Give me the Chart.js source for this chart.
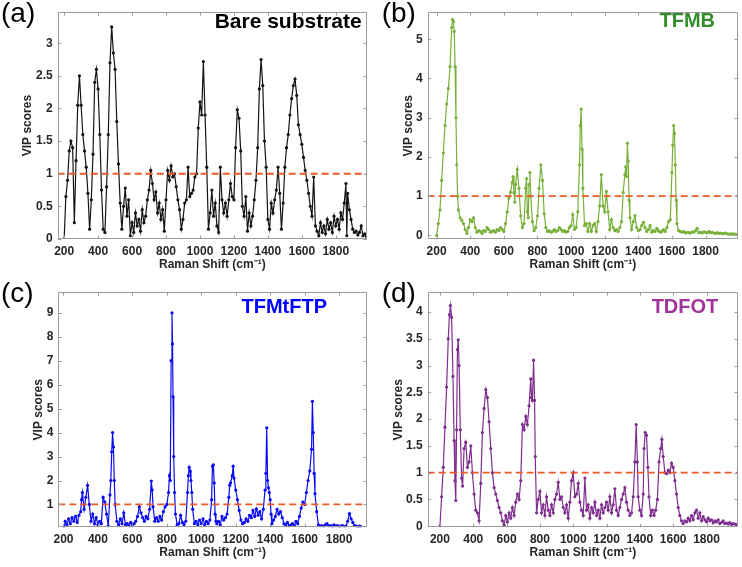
<!DOCTYPE html>
<html>
<head>
<meta charset="utf-8">
<script src="https://cdn.jsdelivr.net/npm/chart.js"></script>
<style>
  body { margin: 0; background: #fff; width: 742px; height: 567px; position: relative; overflow: hidden; }
  canvas { position: absolute; }
</style>
</head>
<body>
<canvas id="panelA" width="371" height="280" style="left:0;top:0"></canvas>
<canvas id="panelB" width="371" height="280" style="left:371px;top:0"></canvas>
<canvas id="panelC" width="371" height="287" style="left:0;top:280px"></canvas>
<canvas id="panelD" width="371" height="287" style="left:371px;top:280px"></canvas>
<script>
// ---- data ----
const ramanTicks = [200, 400, 600, 800, 1000, 1200, 1400, 1600, 1800];
const vipTicksA = [0, 0.5, 1, 1.5, 2, 2.5, 3];
const vipTicksB = [0, 1, 2, 3, 4, 5];
const vipTicksC = [1, 2, 3, 4, 5, 6, 7, 8, 9];
const vipTicksD = [0, 0.5, 1, 1.5, 2, 2.5, 3, 3.5, 4];
const threshold = 1;

// (a) Bare substrate
const shiftA = [
  200,210,220,230,240,250,260,270,280,290,
  300,310,320,330,340,350,360,370,380,390,
  400,410,420,430,440,450,460,470,480,490,
  500,510,520,530,540,550,560,570,580,590,
  600,610,620,630,640,650,660,670,680,690,
  700,710,720,730,740,750,760,770,780,790,
  800,810,820,830,840,850,860,870,880,890,
  900,910,920,930,940,950,960,970,980,990,
  1000,1010,1020,1030,1040,1050,1060,1070,1080,1090,
  1100,1110,1120,1130,1140,1150,1160,1170,1180,1190,
  1200,1210,1220,1230,1240,1250,1260,1270,1280,1290,
  1300,1310,1320,1330,1340,1350,1360,1370,1380,1390,
  1400,1410,1420,1430,1440,1450,1460,1470,1480,1490,
  1500,1510,1520,1530,1540,1550,1560,1570,1580,1590,
  1600,1610,1620,1630,1640,1650,1660,1670,1680,1690,
  1700,1710,1720,1730,1740,1750,1760,1770,1780,1790,
  1800,1810,1820,1830,1840,1850,1860,1865,1870,1880,
  1890,1900,1910,1920,1930,1940,1950,1960,1970,1980
];
const vipA = [
  0,0.65,0.9,1.35,1.5,1.4,0.25,1.2,2.05,2.5,
  2.05,1.6,1.35,1.1,0.7,0.15,0.6,1.3,2.4,2.6,
  2.3,1.6,0.75,0.15,0.1,0.8,1.6,2.7,3.25,2.85,
  2.6,1.8,1.15,0.55,0.15,0.5,0.78,0.35,0.6,0.05,
  0.25,0.1,0.4,0.2,0.3,0.12,0.45,0.25,0.35,0.6,
  0.75,1.05,0.85,0.6,0.72,0.4,0.55,0.3,0.45,0.12,
  0.6,1.05,0.9,1.12,0.95,1.0,0.8,0.6,0.45,0.15,
  0.3,0.55,0.6,1.1,0.65,0.7,0.75,0.95,1.0,1.7,
  2.1,1.9,2.72,1.9,1.1,0.15,0.4,0.75,0.35,0.55,
  0.2,0.1,1.1,0.6,0.4,0.55,0.35,0.6,0.85,0.65,
  0.6,1.4,1.98,1.85,1.35,0.5,0.35,0.65,0.12,0.4,
  0.2,0.35,0.6,0.9,1.4,2.3,2.75,2.35,1.5,1.1,
  0.3,0.15,0.55,0.4,0.6,0.75,1.1,0.7,0.15,0.55,
  1.1,1.4,1.6,1.9,2.15,2.35,2.45,2.2,1.75,1.6,
  1.45,1.25,1.05,0.9,0.7,0.5,0.35,0.95,0.2,0.12,
  0.05,0.25,0.1,0.2,0.08,0.3,0.15,0.25,0.1,0.35,
  0.2,0.3,0.15,0.4,0.3,0.55,0.85,0.05,0.7,0.45,
  0.3,0.15,0.1,0.12,0.06,0.1,0.2,0.05,0.08,0.04
];

// (b) TFMB
const shiftB = [
  200,210,220,230,240,250,260,270,280,290,
  295,300,305,310,315,320,325,330,340,350,
  360,370,380,390,400,410,420,430,440,450,
  460,470,480,490,500,510,520,530,540,550,
  560,570,580,590,600,610,620,630,640,650,
  655,660,665,670,680,690,700,710,720,730,
  735,740,745,750,755,760,770,780,790,800,
  810,820,830,840,850,860,870,880,890,900,
  910,920,930,940,950,960,970,980,990,1000,
  1010,1020,1030,1040,1050,1055,1060,1065,1070,1080,
  1090,1100,1110,1120,1130,1140,1150,1160,1170,1180,
  1190,1200,1210,1220,1230,1240,1250,1260,1270,1280,
  1290,1300,1310,1320,1325,1330,1335,1340,1345,1350,
  1360,1370,1380,1390,1400,1410,1420,1430,1440,1450,
  1460,1470,1480,1490,1500,1510,1520,1530,1540,1550,
  1560,1570,1580,1590,1600,1605,1610,1615,1620,1625,
  1630,1640,1650,1660,1670,1680,1690,1700,1710,1720,
  1730,1740,1750,1760,1770,1780,1790,1800,1810,1820,
  1830,1840,1850,1860,1870,1880,1890,1900,1910,1920,
  1930,1940,1950,1960,1970,1980,1990
];
const vipB = [
  0,0.3,0.65,1.4,2.1,2.8,3.35,3.75,4.3,5.3,
  5.5,5.45,5.2,4.3,3.0,1.8,1.0,0.65,0.45,0.38,
  0.3,0.15,0.05,0.2,0.4,0.35,0.45,0.2,0.08,0.12,
  0.1,0.05,0.12,0.1,0.2,0.15,0.08,0.1,0.12,0.08,
  0.15,0.12,0.2,0.15,0.1,0.3,0.6,0.95,1.1,1.35,
  1.5,1.1,0.85,1.3,1.68,1.2,0.5,0.2,0.3,1.2,
  1.45,0.6,0.45,1.3,1.6,1.0,0.35,0.12,0.2,0.5,
  1.2,1.8,1.4,0.55,0.2,0.1,0.12,0.08,0.1,0.15,
  0.1,0.12,0.2,0.15,0.1,0.12,0.08,0.1,0.2,0.25,
  0.53,0.15,0.2,0.6,1.8,2.8,3.22,2.2,1.2,0.25,
  0.3,0.1,0.3,0.1,0.25,0.3,0.1,0.35,0.75,1.55,
  0.75,0.6,1.12,0.6,0.15,0.4,0.2,0.12,0.15,0.1,
  0.2,0.35,1.1,1.55,1.75,1.5,2.35,1.9,0.9,0.45,
  0.15,0.35,0.5,0.2,0.12,0.15,0.25,0.33,0.2,0.1,
  0.15,0.25,0.08,0.12,0.1,0.18,0.12,0.08,0.1,0.15,
  0.1,0.2,0.35,0.4,1.6,2.3,2.8,2.6,1.8,0.9,
  0.3,0.12,0.1,0.08,0.1,0.06,0.08,0.07,0.06,0.09,
  0.08,0.12,0.18,0.07,0.08,0.06,0.09,0.08,0.06,0.1,
  0.07,0.08,0.06,0.05,0.07,0.05,0.06,0.04,0.05,0.06,
  0.04,0.03,0.04,0.03,0.04,0.02,0.02
];

// (c) TFMtFTP
const shiftC = [
  205,210,220,230,240,250,260,270,280,290,
  300,305,310,320,330,340,350,360,370,380,
  390,400,410,420,430,440,450,460,470,475,
  480,485,490,495,500,510,520,530,540,550,
  560,570,580,590,600,610,620,630,640,650,
  660,670,680,690,700,710,715,720,730,740,
  750,760,770,780,790,800,810,815,820,825,
  830,833,836,840,845,850,860,870,880,890,
  900,910,920,925,930,935,940,945,950,960,
  970,980,990,1000,1010,1020,1030,1040,1050,1060,
  1065,1070,1075,1080,1085,1090,1100,1110,1120,1130,
  1140,1150,1160,1165,1170,1180,1185,1190,1200,1210,
  1220,1230,1240,1250,1260,1270,1280,1290,1300,1310,
  1320,1330,1340,1350,1360,1370,1375,1380,1385,1390,
  1395,1400,1405,1410,1420,1430,1440,1450,1460,1470,
  1480,1490,1500,1510,1520,1530,1540,1550,1560,1570,
  1580,1590,1600,1610,1620,1630,1640,1645,1650,1655,
  1660,1670,1680,1690,1700,1710,1720,1730,1740,1750,
  1760,1770,1780,1790,1800,1810,1820,1830,1840,1850,
  1860,1870,1880,1890,1900,1910,1920,1925
];
const vipC = [
  0.07,0.3,0.15,0.4,0.2,0.45,0.3,0.5,0.25,0.55,
  0.7,1.2,1.5,0.8,1.3,1.8,1.0,0.3,0.6,0.2,
  0.45,0.15,0.3,0.2,1.3,1.1,0.6,0.1,1.4,2.0,
  3.2,4.0,3.4,2.0,1.0,0.3,0.15,0.4,0.2,0.65,
  0.15,0.2,0.1,0.25,0.15,0.2,0.3,0.5,0.9,0.65,
  0.45,0.3,0.5,0.4,0.8,1.98,1.6,0.9,0.3,0.45,
  0.3,0.5,0.35,0.7,0.9,1.0,1.5,2.2,2.0,7.0,
  9.0,7.7,5.5,3.0,1.5,0.6,0.15,0.2,0.55,0.25,
  0.15,0.3,1.5,2.2,2.55,2.4,2.0,1.5,0.8,0.2,
  0.3,0.15,0.35,0.2,0.4,0.15,0.3,0.2,0.35,1.2,
  2.6,2.65,1.9,0.6,0.3,0.2,0.3,0.15,0.5,0.35,
  0.45,0.6,1.3,1.8,1.9,2.2,2.6,2.1,1.6,1.2,
  0.75,0.35,0.2,0.25,0.4,0.3,0.55,0.45,0.75,0.5,
  0.82,0.55,0.7,0.4,0.8,1.6,2.3,4.2,2.0,1.7,
  1.5,1.2,0.6,0.2,0.35,0.5,0.8,0.6,0.7,0.45,
  0.2,0.15,0.25,0.1,0.15,0.2,0.12,0.3,0.2,0.5,
  0.85,1.1,1.0,1.5,2.0,2.4,3.3,5.3,4.0,2.3,
  1.45,0.7,0.15,0.1,0.12,0.08,0.15,0.2,0.1,0.12,
  0.08,0.15,0.1,0.12,0.08,0.1,0.12,0.08,0.1,0.3,
  0.62,0.4,0.25,0.12,0.1,0.08,0.1,0.08
];

// (d) TDFOT
const shiftD = [
  200,210,220,230,240,250,257,263,270,278,
  285,290,295,300,305,310,315,322,330,336,
  345,355,365,375,385,395,405,415,425,435,
  445,455,465,475,485,495,505,515,525,535,
  545,555,565,575,585,595,605,615,625,635,
  645,655,665,675,685,695,705,715,725,735,
  745,750,755,762,768,772,780,790,800,810,
  820,830,840,850,860,870,880,890,900,910,
  920,930,940,950,960,970,980,990,1000,1010,
  1020,1030,1040,1050,1060,1070,1080,1090,1100,1110,
  1120,1130,1140,1150,1160,1170,1180,1190,1200,1210,
  1220,1230,1240,1250,1260,1270,1280,1290,1300,1310,
  1320,1330,1340,1350,1360,1370,1378,1385,1390,1400,
  1410,1420,1425,1432,1440,1448,1455,1465,1475,1485,
  1495,1505,1515,1525,1532,1540,1550,1560,1570,1580,
  1590,1600,1610,1620,1630,1640,1650,1660,1670,1680,
  1690,1700,1710,1720,1730,1740,1750,1760,1770,1780,
  1790,1800,1810,1820,1830,1840,1850,1860,1870,1880,
  1890,1900,1910,1920,1930,1940,1950,1960,1970,1980,
  1988
];
const vipD = [
  0,0.55,1.1,1.85,2.6,3.5,3.95,4.12,3.9,2.8,
  1.6,0.85,0.48,1.8,3.3,3.48,3.0,1.8,0.9,0.75,
  1.45,1.57,1.1,1.2,1.5,1.0,0.6,0.3,0.25,0.1,
  0.8,1.75,2.2,2.55,2.4,1.95,1.45,1.0,0.72,0.6,
  0.48,0.35,0.25,0.1,0.02,0.2,0.08,0.25,0.15,0.35,
  0.2,0.45,0.6,0.5,0.85,1.9,1.8,2.05,1.9,2.25,
  2.75,2.4,2.35,3.1,2.35,1.3,0.25,0.5,0.65,0.25,
  0.4,0.2,0.55,0.3,0.2,0.4,0.25,0.5,0.6,0.82,
  0.5,0.55,0.35,0.25,0.4,0.15,0.45,0.85,1.0,0.55,
  0.6,0.8,0.45,0.3,0.2,0.9,0.3,0.4,0.15,0.35,
  0.25,0.45,0.2,0.3,0.15,0.4,0.25,0.35,0.45,0.3,
  0.55,0.25,0.4,0.7,0.3,0.2,0.35,0.5,0.6,0.72,
  0.45,0.3,0.2,0.25,0.55,1.2,1.9,1.2,0.55,0.3,
  0.2,0.6,1.45,1.75,1.7,1.1,0.55,0.2,0.3,0.2,
  0.3,0.5,1.2,1.45,1.62,1.3,1.0,0.98,1.05,1.0,
  1.18,1.1,0.85,0.6,0.35,0.2,0.1,0.05,0.1,0.08,
  0.15,0.1,0.2,0.12,0.25,0.3,0.15,0.25,0.1,0.18,
  0.12,0.08,0.15,0.1,0.12,0.06,0.1,0.08,0.12,0.05,
  0.07,0.1,0.05,0.06,0.04,0.07,0.03,0.05,0.04,0.03,
  0.04
];

// ---- drawing ----
const FONT = '"Liberation Sans", Arial, sans-serif';
const INK = '#262626';

// MATLAB-like box with inward ticks, panel letter and sample name
const panelFrame = {
  id: 'panelFrame',
  afterDatasetsDraw(chart, args, o) {
    const { ctx, chartArea: a, scales: { x, y } } = chart;
    ctx.save();
    ctx.strokeStyle = '#9b9b9b';
    ctx.lineWidth = 1;
    ctx.beginPath();
    ctx.rect(Math.round(a.left) + 0.5, Math.round(a.top) + 0.5,
             Math.round(a.right - a.left) - 1, Math.round(a.bottom - a.top) - 1);
    x.ticks.forEach(t => {
      const p = Math.round(x.getPixelForValue(t.value)) + 0.5;
      ctx.moveTo(p, a.bottom); ctx.lineTo(p, a.bottom - 3.5);
      ctx.moveTo(p, a.top); ctx.lineTo(p, a.top + 3.5);
    });
    y.ticks.forEach(t => {
      const p = Math.round(y.getPixelForValue(t.value)) + 0.5;
      ctx.moveTo(a.left, p); ctx.lineTo(a.left + 3.5, p);
      ctx.moveTo(a.right, p); ctx.lineTo(a.right - 3.5, p);
    });
    ctx.stroke();

    ctx.fillStyle = '#000';
    ctx.font = '28px ' + FONT;
    ctx.textAlign = 'left';
    ctx.textBaseline = 'alphabetic';
    ctx.fillText(o.letter, o.letterX, o.letterY);

    ctx.fillStyle = o.nameColor;
    ctx.font = 'bold ' + o.nameSize + 'px ' + FONT;
    ctx.textAlign = 'right';
    ctx.fillText(o.name, o.nameX, o.nameY);
    ctx.restore();
  }
};

function makePanel(id, p) {
  const canvas = document.getElementById(id);
  const W = canvas.width, H = canvas.height;
  const tickFont = { family: FONT, size: 12, weight: 'bold' };
  new Chart(canvas, {
    type: 'line',
    data: {
      datasets: [
        {
          data: [{ x: p.xMin, y: threshold }, { x: p.xMax, y: threshold }],
          borderColor: '#ec5b24',
          borderWidth: 1.8,
          borderDash: [7, 4],
          pointRadius: 0,
          order: 0
        },
        {
          data: p.shift.map((s, i) => ({ x: s, y: p.vip[i] })),
          borderColor: p.color,
          backgroundColor: p.color,
          borderWidth: 1.2,
          pointRadius: 1.6,
          pointBorderWidth: 0,
          order: 1
        }
      ]
    },
    options: {
      responsive: false,
      devicePixelRatio: 1,
      animation: false,
      events: [],
      layout: { padding: { left: 0, top: p.area.top, right: W - p.area.right, bottom: 0 } },
      plugins: {
        legend: { display: false },
        tooltip: { enabled: false },
        panelFrame: p.frame
      },
      scales: {
        x: {
          type: 'linear',
          bounds: 'data',
          min: p.xMin,
          max: p.xMax,
          afterFit: s => { s.height = H - p.area.bottom; },
          afterBuildTicks: s => { s.ticks = ramanTicks.map(v => ({ value: v })); },
          grid: { display: false, drawTicks: false },
          border: { display: false },
          ticks: { padding: 5, font: tickFont, color: INK, maxRotation: 0, autoSkip: false,
                   callback: v => String(v) },
          title: { display: true, text: 'Raman Shift (cm⁻¹)', font: tickFont, color: INK,
                   padding: { top: 0, bottom: p.xTitlePad } }
        },
        y: {
          type: 'linear',
          bounds: 'data',
          min: p.yMin,
          max: p.yMax,
          afterFit: s => { s.width = p.area.left; },
          afterBuildTicks: s => { s.ticks = p.yTicks.map(v => ({ value: v })); },
          grid: { display: false, drawTicks: false },
          border: { display: false },
          ticks: { padding: 5, font: tickFont, color: INK, autoSkip: false,
                   callback: v => String(v) },
          title: { display: true, text: 'VIP scores', font: tickFont, color: INK,
                   padding: { top: p.yTitlePad, bottom: 0 } }
        }
      }
    },
    plugins: [panelFrame]
  });
}

makePanel('panelA', {
  shift: shiftA, vip: vipA, yTicks: vipTicksA, color: '#141414',
  xMin: 162, xMax: 1984, yMin: 0, yMax: 3.475,
  area: { left: 57.7, top: 1.7, right: 368, bottom: 239 },
  yTitlePad: 20.8, xTitlePad: 8,
  frame: { letter: '(a)', letterX: 1, letterY: 22.4, name: 'Bare substrate',
           nameColor: '#000', nameSize: 21, nameX: 361.7, nameY: 27.5 }
});

makePanel('panelB', {
  shift: shiftB, vip: vipB, yTicks: vipTicksB, color: '#78b03a',
  xMin: 147, xMax: 1993, yMin: -0.1, yMax: 5.69,
  area: { left: 56.7, top: 1.7, right: 368.3, bottom: 239.3 },
  yTitlePad: 30.1, xTitlePad: 8,
  frame: { letter: '(b)', letterX: 10.7, letterY: 22.4, name: 'TFMB',
           nameColor: '#348b2c', nameSize: 20, nameX: 344, nameY: 27.3 }
});

makePanel('panelC', {
  shift: shiftC, vip: vipC, yTicks: vipTicksC, color: '#0a0af2',
  xMin: 170, xMax: 1962, yMin: 0.047, yMax: 9.86,
  area: { left: 58.3, top: 7.3, right: 368, bottom: 247.3 },
  yTitlePad: 31.1, xTitlePad: 6.8,
  frame: { letter: '(c)', letterX: 1, letterY: 22.4, name: 'TFMtFTP',
           nameColor: '#0000ff', nameSize: 20, nameX: 327, nameY: 33.3 }
});

makePanel('panelD', {
  shift: shiftD, vip: vipD, yTicks: vipTicksD, color: '#7e2f8e',
  xMin: 126.5, xMax: 1989, yMin: -0.02, yMax: 4.37,
  area: { left: 56.7, top: 7.3, right: 368.3, bottom: 247.3 },
  yTitlePad: 20.1, xTitlePad: 6.8,
  frame: { letter: '(d)', letterX: 10.7, letterY: 22.4, name: 'TDFOT',
           nameColor: '#a0339c', nameSize: 20, nameX: 347.3, nameY: 33.3 }
});
</script>
</body>
</html>
